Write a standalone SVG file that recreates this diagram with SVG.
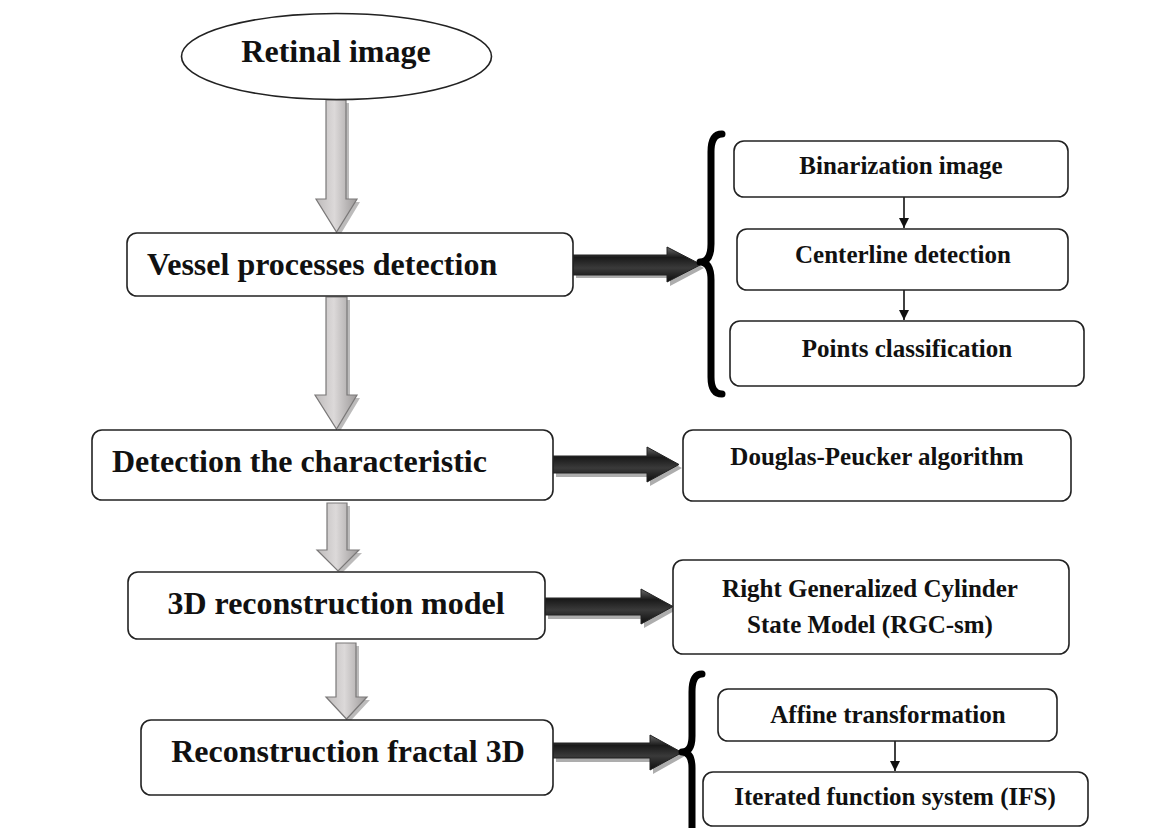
<svg xmlns="http://www.w3.org/2000/svg" width="1165" height="828" viewBox="0 0 1165 828">
<defs>
<linearGradient id="gGray" x1="0" y1="0" x2="1" y2="0">
<stop offset="0" stop-color="#bebbbb"/>
<stop offset="0.45" stop-color="#dcd9d9"/>
<stop offset="1" stop-color="#9c9999"/>
</linearGradient>
<linearGradient id="gDark" x1="0" y1="0" x2="0" y2="1">
<stop offset="0" stop-color="#6a6a6a"/>
<stop offset="0.3" stop-color="#1a1a1a"/>
<stop offset="0.6" stop-color="#3a3a3a"/>
<stop offset="1" stop-color="#0d0d0d"/>
</linearGradient>
<marker id="ah" viewBox="0 0 10 10" refX="10" refY="5" markerWidth="10" markerHeight="10" markerUnits="userSpaceOnUse" orient="auto">
<path d="M0,0 L10,5 L0,10 Z" fill="#111"/>
</marker>
</defs>
<style>
.box{fill:#fff;stroke:#222;stroke-width:1.6}
.big{font-family:"Liberation Serif","Times New Roman",serif;font-weight:bold;font-size:32px;fill:#111}
.small{font-family:"Liberation Serif","Times New Roman",serif;font-weight:bold;font-size:25px;fill:#111;text-anchor:middle}
.garr{fill:url(#gGray);stroke:#7a7878;stroke-width:1.2}
.gsh{fill:#8f8d8d;opacity:0.6}
.darr{fill:url(#gDark);stroke:#222;stroke-width:1}
.dsh{fill:#8a8a8a;opacity:0.7}
.brace{fill:none;stroke:#000;stroke-width:7;stroke-linejoin:round;stroke-linecap:round}
.thin{stroke:#111;stroke-width:1.6;fill:none}
</style>
<rect width="1165" height="828" fill="#fff"/>

<g id="connectors">
<path class="gsh" d="M329,103 H349 V202 H360 L339.5,236 L319,202 H329 Z"/>
<path class="garr" d="M326,100 H346 V199 H357 L336.5,232 L316,199 H326 Z"/>
<path class="gsh" d="M329,300 H350 V398 H360 L339.5,432 L318,398 H329 Z"/>
<path class="garr" d="M326,297 H347 V395 H357 L336.5,429 L315,395 H326 Z"/>
<path class="gsh" d="M330,506 H350 V553 H362 L341,574 L320,553 H330 Z"/>
<path class="garr" d="M327,503 H347 V550 H359 L338,571 L317,550 H327 Z"/>
<path class="gsh" d="M339,646 H359 V700 H370 L349.5,722 L329,700 H339 Z"/>
<path class="garr" d="M336,643 H356 V697 H367 L346.5,719 L326,697 H336 Z"/>
<path class="dsh" d="M576,259 H670 V250 L704,268 L670,286 V278 H576 Z"/>
<path class="darr" d="M573,255 H667 V247 L701,264.5 L667,282 V275 H573 Z"/>
<path class="dsh" d="M556,460 H650 V451 L682,468 L650,486 V477 H556 Z"/>
<path class="darr" d="M553,456 H647 V447 L679,464.5 L647,482 V473 H553 Z"/>
<path class="dsh" d="M548,602 H644 V593 L676,610 L644,628 V619 H548 Z"/>
<path class="darr" d="M545,598 H641 V589 L673,606.5 L641,624 V615 H545 Z"/>
<path class="dsh" d="M556,747 H653 V739 L685,756 L653,774 V762 H556 Z"/>
<path class="darr" d="M553,743 H650 V735 L682,752.5 L650,770 V758 H553 Z"/>
<path class="brace" d="M722,134 Q711,134 711,152 L711,244 Q711,262 700,262 Q711,262 711,280 L711,377 Q711,394 722,394"/>
<path class="brace" d="M702,674 Q692,674 692,692 L692,736 Q692,752 682,752 Q692,752 692,768 L692,832"/>
<line class="thin" x1="904" y1="197" x2="904" y2="228" marker-end="url(#ah)"/>
<line class="thin" x1="904" y1="290" x2="904" y2="320" marker-end="url(#ah)"/>
<line class="thin" x1="895" y1="741" x2="895" y2="771" marker-end="url(#ah)"/>
</g>

<g id="retinal">
<ellipse cx="336.5" cy="56.5" rx="155" ry="43" fill="#fff" stroke="#222" stroke-width="1.6"/>
<text class="big" x="336" y="62" text-anchor="middle">Retinal image</text>
</g>
<g id="vessel">
<rect class="box" x="127" y="233" width="446" height="63" rx="10"/>
<text class="big" x="147" y="275">Vessel processes detection</text>
</g>
<g id="binarization">
<rect class="box" x="734" y="141" width="334" height="56" rx="10"/>
<text class="small" x="901" y="174">Binarization image</text>
</g>
<g id="centerline">
<rect class="box" x="737" y="229" width="331" height="61" rx="10"/>
<text class="small" x="903" y="263">Centerline detection</text>
</g>
<g id="points">
<rect class="box" x="730" y="321" width="354" height="65" rx="10"/>
<text class="small" x="907" y="357">Points classification</text>
</g>
<g id="detection">
<rect class="box" x="92" y="430" width="461" height="70" rx="10"/>
<text class="big" x="112" y="472">Detection the characteristic</text>
</g>
<g id="douglas">
<rect class="box" x="683" y="430" width="388" height="71" rx="10"/>
<text class="small" x="877" y="465">Douglas-Peucker algorithm</text>
</g>
<g id="reconstruction3d">
<rect class="box" x="128" y="572" width="417" height="67" rx="10"/>
<text class="big" x="336" y="614" text-anchor="middle">3D reconstruction model</text>
</g>
<g id="rgc">
<rect class="box" x="673" y="560" width="396" height="94" rx="10"/>
<text class="small" x="870" y="597">Right Generalized Cylinder</text>
<text class="small" x="870" y="633">State Model (RGC-sm)</text>
</g>
<g id="fractal">
<rect class="box" x="141" y="720" width="412" height="75" rx="10"/>
<text class="big" x="348" y="762" text-anchor="middle">Reconstruction fractal 3D</text>
</g>
<g id="affine">
<rect class="box" x="718" y="689" width="339" height="52" rx="10"/>
<text class="small" x="888" y="723">Affine transformation</text>
</g>
<g id="ifs">
<rect class="box" x="703" y="772" width="385" height="54" rx="10"/>
<text class="small" x="895" y="805">Iterated function system (IFS)</text>
</g>
</svg>
